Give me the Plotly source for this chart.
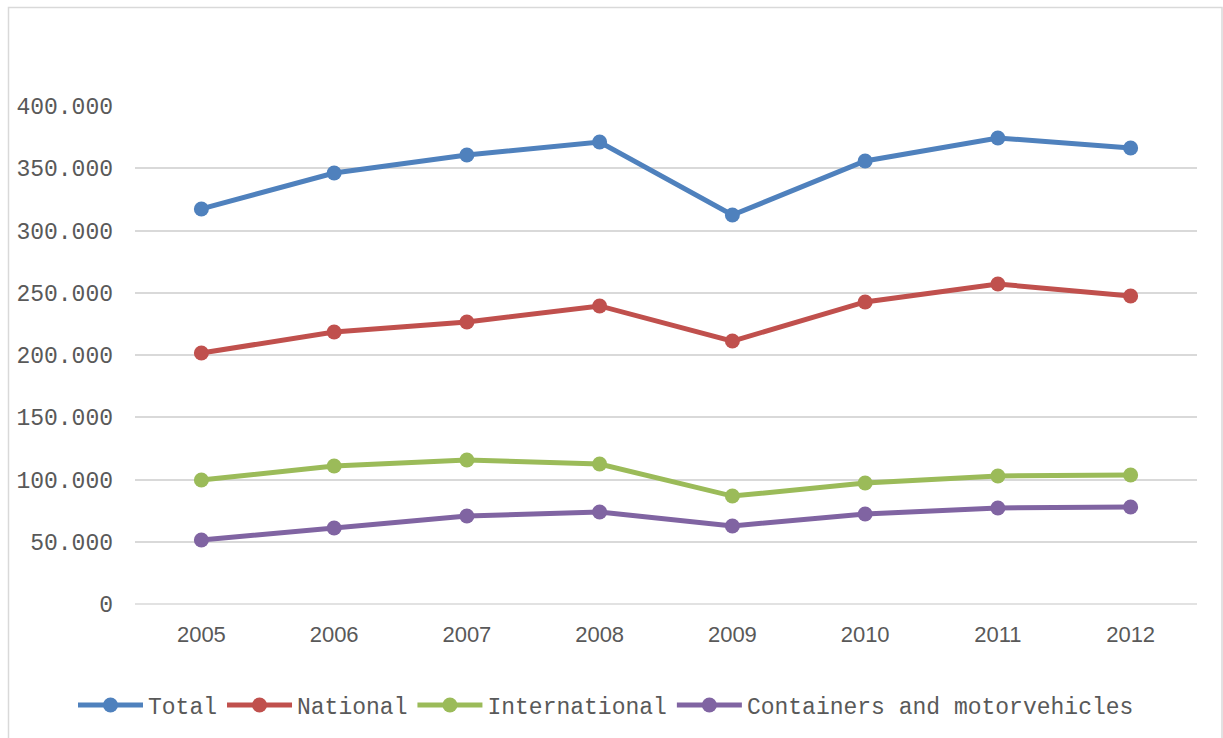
import plotly.graph_objects as go

years = ["2005", "2006", "2007", "2008", "2009", "2010", "2011", "2012"]
total = [317300, 346200, 360600, 371100, 312400, 355800, 374300, 366300]
national = [201600, 218500, 226500, 239400, 211200, 242600, 257000, 247400]
international = [99600, 110800, 115700, 112400, 86700, 97200, 102800, 103600]
containers = [51400, 61000, 70700, 73900, 62700, 72300, 77100, 77900]

series = [
    ("Total", total, "#4F81BD"),
    ("National", national, "#C0504D"),
    ("International", international, "#9BBB59"),
    ("Containers and motorvehicles", containers, "#8064A2"),
]

fig = go.Figure()
for name, vals, col in series:
    fig.add_trace(go.Scatter(
        x=years, y=vals, name=name, mode="lines+markers",
        line=dict(color=col, width=5),
        marker=dict(color=col, size=15),
    ))

W, H = 1223, 738
L, R, T, B = 135, 1197, 106, 604
pw, ph = R - L, B - T

def px(x):
    return (x - L) / pw

def py(y):
    return (B - y) / ph

fig.update_layout(
    width=W, height=H,
    margin=dict(l=L, r=W - R, t=T, b=H - B),
    paper_bgcolor="white", plot_bgcolor="white",
    separators=",.",
    showlegend=True,
    legend=dict(
        orientation="h", x=px(73), xanchor="left", y=py(705), yanchor="middle",
        font=dict(family="Liberation Mono", size=23, color="#595959"),
        itemwidth=65, tracegroupgap=0,
    ),
    xaxis=dict(
        type="category", range=[-0.5, 7.5], showgrid=False, zeroline=False,
        showline=False, ticks="", ticklabelstandoff=15,
        tickfont=dict(family="Liberation Sans", size=22, color="#595959"),
    ),
    yaxis=dict(
        range=[0, 400000], tickvals=[0, 50000, 100000, 150000, 200000, 250000, 300000, 350000, 400000],
        tickformat=",.0f", showgrid=True, gridcolor="#D9D9D9", gridwidth=1.5,
        zeroline=False, showline=False, ticks="", ticklabelstandoff=21,
        tickfont=dict(family="Liberation Mono", size=23, color="#595959"),
    ),
    shapes=[
        dict(type="line", xref="paper", yref="paper", x0=0, x1=1, y0=0, y1=0,
             line=dict(color="#D9D9D9", width=1.5), layer="below"),
        dict(type="rect", xref="paper", yref="paper",
             x0=px(8.5), x1=px(1222), y0=py(760), y1=py(7.5),
             line=dict(color="#D9D9D9", width=1.5), fillcolor="rgba(0,0,0,0)"),
    ],
)

fig.write_html("out.html")
